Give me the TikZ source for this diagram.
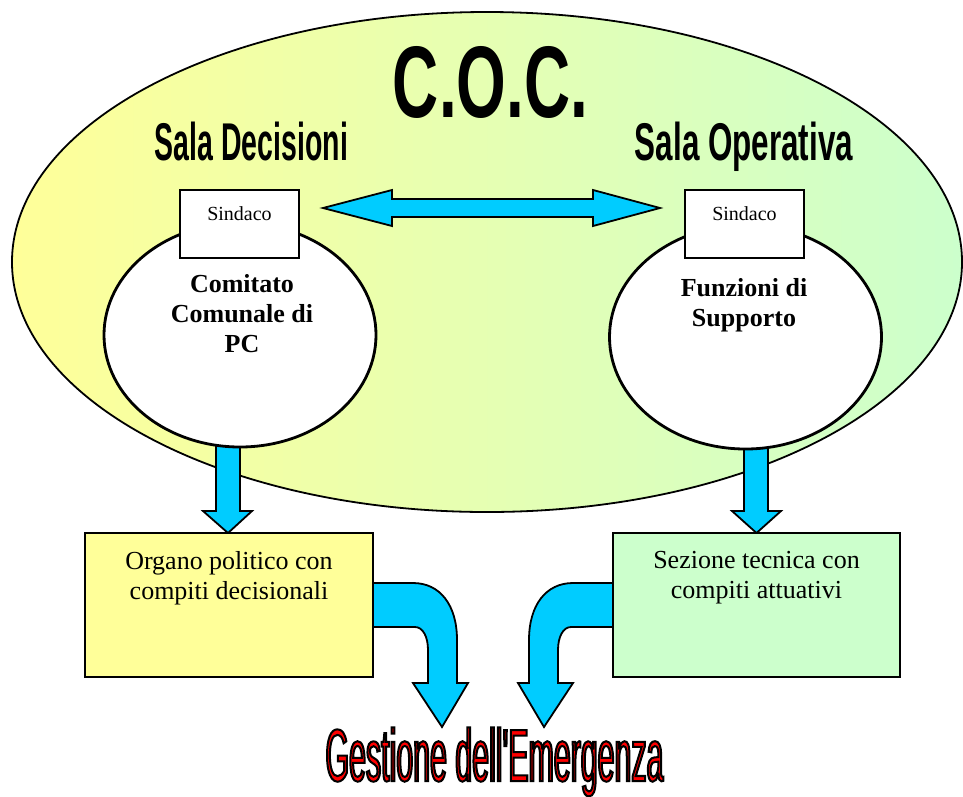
\documentclass[tikz,border=0pt]{standalone}
\usepackage{fontspec}
\usepackage{graphicx}
\setmainfont{Liberation Serif}
\newfontfamily\arialfont{Liberation Sans}
\newfontfamily\gestfont[FakeStretch=0.41,Ligatures=TeXOff]{Liberation Sans}
\usetikzlibrary{shapes.geometric}
\definecolor{ylw}{RGB}{255,255,153}
\definecolor{grn}{RGB}{204,255,204}
\definecolor{arrowblue}{RGB}{0,204,255}
\begin{document}
\begin{tikzpicture}[x=1pt,y=-1pt,
  blockarrow/.style={draw=black, line width=1.8pt, fill=arrowblue, line join=miter},
  smallell/.style={ellipse, draw=black, line width=2.8pt, fill=white, minimum width=272pt, minimum height=224pt, inner sep=0pt},
  sbox/.style={draw=black, line width=2.5pt, fill=white, minimum width=119pt, minimum height=68pt, inner sep=0pt},
  bottombox/.style={draw=black, line width=2pt, minimum width=288pt, minimum height=144pt, inner sep=0pt},
  sindacotxt/.style={font=\fontsize{20}{24}\selectfont, inner sep=0pt},
  bodytxt/.style={font=\fontsize{26}{30}\selectfont, align=center, inner sep=0pt},
  boldtxt/.style={font=\fontsize{26}{30}\selectfont\bfseries, align=center, inner sep=0pt},
  titletxt/.style={anchor=base, inner sep=0pt, text=black}
]
\useasboundingbox (0,0) rectangle (963,796);

% big ellipse
\node[ellipse, draw=black, line width=1.8pt, left color=ylw, right color=grn,
      minimum width=950pt, minimum height=500pt, inner sep=0pt] (coc) at (487,262) {};

% double arrow
\draw[blockarrow] (323,208) -- (392,190) -- (392,199) -- (593,199) -- (593,190) -- (660,208)
  -- (593,226) -- (593,217) -- (392,217) -- (392,226) -- cycle;

% down arrows
\draw[blockarrow] (216,430) -- (240,430) -- (240,511) -- (252,511) -- (228,533) -- (203,511) -- (216,511) -- cycle;
\draw[blockarrow] (744,430) -- (768,430) -- (768,511) -- (781,511) -- (756.5,533) -- (732,511) -- (744,511) -- cycle;

% small ellipses
\node[smallell] (elL) at (240,335) {};
\node[smallell] (elR) at (745.5,337) {};

% Sindaco boxes
\node[sbox] (sdL) at (239.5,224) {};
\node[sbox] (sdR) at (744.5,224) {};
\node[sindacotxt] (sdLt) at (239.5,214) {Sindaco};
\node[sindacotxt] (sdRt) at (744.5,214) {Sindaco};

% ellipse texts
\node[boldtxt] (comt) at (242,314) {Comitato\\Comunale di\\PC};
\node[boldtxt] (funt) at (744,305) {Funzioni di\\Supporto};

% curved arrows
\draw[blockarrow] (373,583) -- (413,583) .. controls (440,583) and (457,605) .. (457,640)
  -- (457,683) -- (468,683) -- (442,727) -- (413,683) -- (428,683) -- (428,650)
  .. controls (428,637) and (423,627) .. (415,627) -- (373,627) -- cycle;
\draw[blockarrow] (613,583) -- (573,583) .. controls (546,583) and (529,605) .. (529,640)
  -- (529,683) -- (518,683) -- (544,727) -- (573,683) -- (558,683) -- (558,650)
  .. controls (558,637) and (563,627) .. (571,627) -- (613,627) -- cycle;

% bottom boxes
\node[bottombox, fill=ylw] (orgL) at (229,605) {};
\node[bottombox, fill=grn, minimum width=287pt] (orgR) at (756.5,605) {};
\node[bodytxt] (orgLt) at (229,578) {Organo politico con\\compiti decisionali};
\node[bodytxt] (orgRt) at (756.5,578) {Sezione tecnica con\\compiti attuativi};

% titles
\node[titletxt] (coct) at (490.5,117) {\resizebox{195pt}{71pt}{\arialfont\bfseries C.O.C.}};
\node[titletxt] (sdect) at (251.5,160) {\resizebox{193pt}{38.5pt}{\arialfont\bfseries Sala Decisioni}};
\node[titletxt] (sopt) at (744,160) {\resizebox{218pt}{38.5pt}{\arialfont\bfseries Sala Operativa}};

% Gestione dell'Emergenza (red fill, black outline via text render mode)
\node[titletxt, text=red] (gest) at (494.5,781)
  {\special{pdf:literal 0 0 0 RG 2 w 2 Tr}\gestfont\fontsize{74}{80}\selectfont Gestione dell'Emergenza\special{pdf:literal 0 Tr}};
\end{tikzpicture}
\end{document}
